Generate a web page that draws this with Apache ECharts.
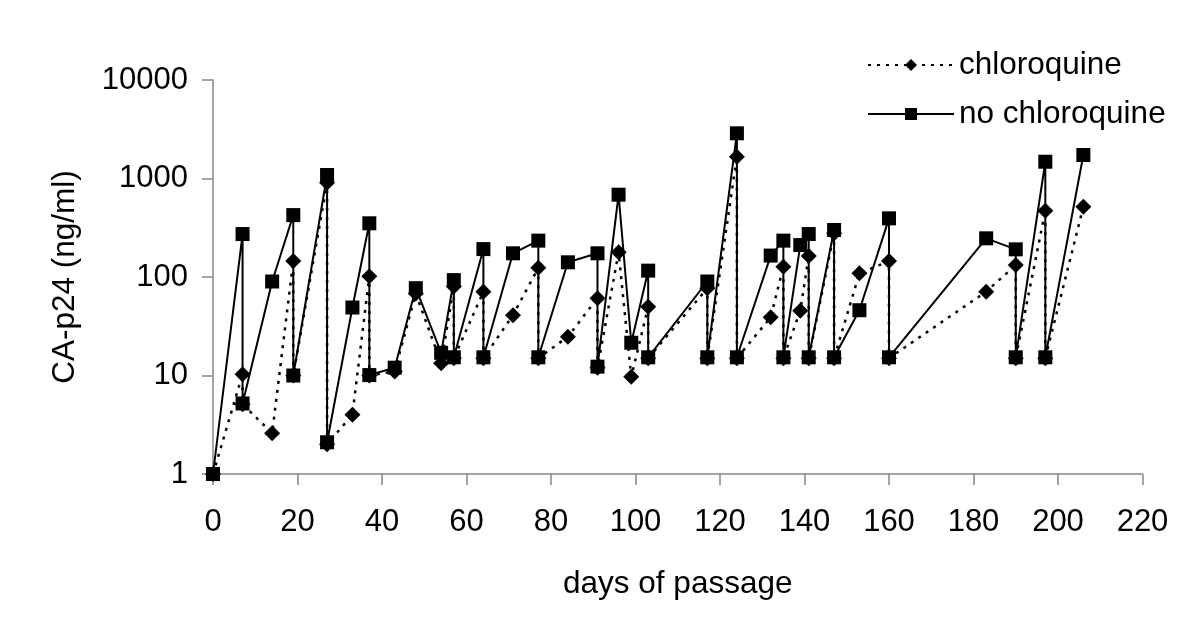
<!DOCTYPE html>
<html>
<head>
<meta charset="utf-8">
<script src="https://cdn.jsdelivr.net/npm/echarts@6/dist/echarts.min.js"></script>
<style>
html,body{margin:0;padding:0;background:#fff;}
#chart{width:1200px;height:640px;}
</style>
</head>
<body>
<div id="chart"></div>
<script>
var days = [0,7,7,14,19,19,27,27,33,37,37,43,48,54,57,57,64,64,71,77,77,84,91,91,96,99,103,103,117,117,124,124,132,135,135,139,141,141,147,147,153,160,160,183,190,190,197,197,206];
var chloroquine = [1,10.3,5.1,2.6,145,10,906,2.0,4.0,102,10,11,68,13.3,80,15,71,15,41,124,15,24.8,61,12,178,9.7,50,15,77,15,1663,15,39,127,15,45.5,163,15,278,15,109,145,15,71,132,15,471,15,517];
var noChloroquine = [1,273,5.2,90,425,10,1085,2.1,49,351,10.1,12,77,17,93,15.3,192,15.3,174,234,15.3,141,174,12.3,685,21.5,116,15.3,90,15.3,2877,15.3,165,234,15.3,211,273,15.3,300,15.3,46,394,15.3,247,191,15.3,1480,15.3,1732];
var seriesNames = ['chloroquine', 'no chloroquine'];
var xTicks = [0,20,40,60,80,100,120,140,160,180,200,220];
var yTicks = [1,10,100,1000,10000];
var xTitle = 'days of passage';
var yTitle = 'CA-p24 (ng/ml)';

function pairs(xs, ys){ return xs.map(function(x,i){ return [x, ys[i]]; }); }

var FONT = '"Liberation Sans", Arial, sans-serif';
var chart = echarts.init(document.getElementById('chart'));
chart.setOption({
  animation: false,
  backgroundColor: '#ffffff',
  textStyle: {fontFamily: FONT, color: '#000'},
  legend: {
    orient: 'vertical',
    left: 862, top: 44,
    itemWidth: 86, itemHeight: 15, itemGap: 17,
    data: seriesNames,
    textStyle: {fontFamily: FONT, fontSize: 31.5, color: '#000', padding: [0,0,0,0]}
  },
  grid: {left: 213, right: 57.5, top: 80, bottom: 166, containLabel: false},
  xAxis: {
    type: 'value', min: xTicks[0], max: xTicks[xTicks.length-1], interval: 20,
    name: xTitle, nameLocation: 'middle', nameGap: 94,
    nameTextStyle: {fontFamily: FONT, fontSize: 31.5, color: '#000'},
    axisLine: {lineStyle: {color: '#888', width: 1.5}},
    axisTick: {show: true, length: 11, lineStyle: {color: '#888', width: 1.5}},
    axisLabel: {fontFamily: FONT, fontSize: 31, color: '#000', margin: 33,
      formatter: function(v){ return String(v); }},
    splitLine: {show: false}
  },
  yAxis: {
    type: 'log', logBase: 10, min: yTicks[0], max: yTicks[yTicks.length-1],
    name: yTitle, nameLocation: 'middle', nameGap: 132, nameRotate: 90,
    nameTextStyle: {fontFamily: FONT, fontSize: 31.5, color: '#000'},
    axisLine: {show: true, lineStyle: {color: '#888', width: 1.5}},
    axisTick: {show: true, length: 11, lineStyle: {color: '#888', width: 1.5}},
    minorTick: {show: false},
    axisLabel: {fontFamily: FONT, fontSize: 31, color: '#000', margin: 25,
      formatter: function(v){ return String(Math.round(v)); }},
    splitLine: {show: false}
  },
  series: [
    {
      name: seriesNames[1], type: 'line', z: 2,
      data: pairs(days, noChloroquine),
      symbol: 'rect', symbolSize: 14,
      lineStyle: {color: '#000', width: 2, type: 'solid'},
      itemStyle: {color: '#000'}
    },
    {
      name: seriesNames[0], type: 'line', z: 3,
      data: pairs(days, chloroquine),
      symbol: 'diamond', symbolSize: [16, 16],
      lineStyle: {color: '#000', width: 2.5, type: [3, 6]},
      itemStyle: {color: '#000'}
    }
  ]
});
</script>
</body>
</html>
